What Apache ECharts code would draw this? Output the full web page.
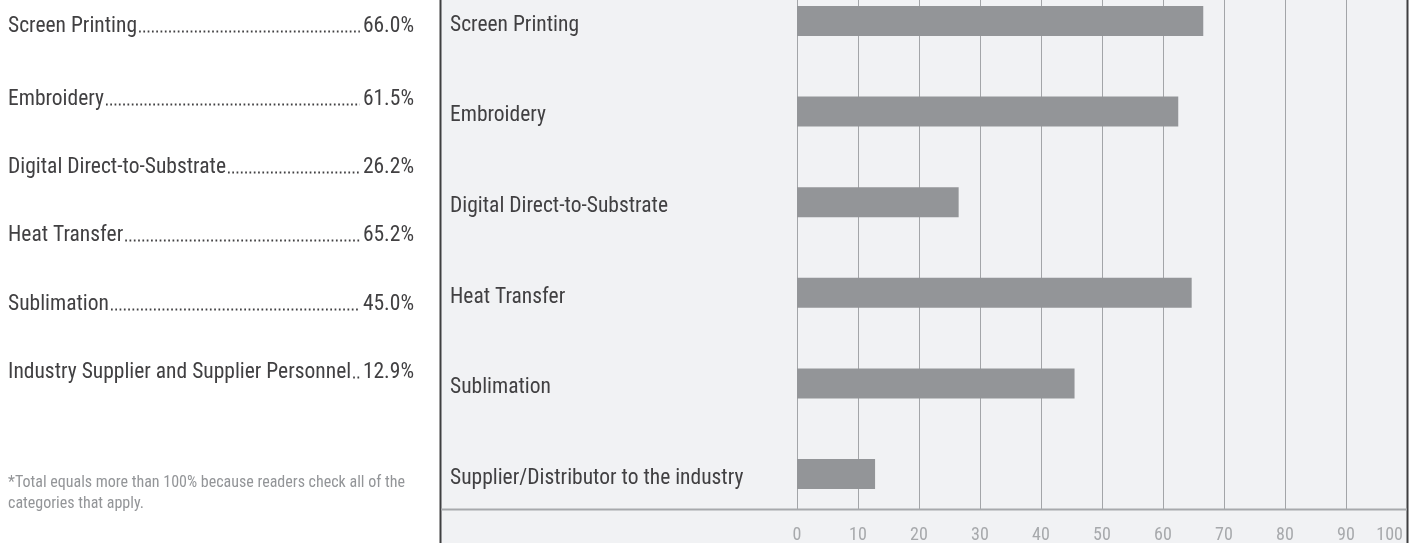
<!DOCTYPE html>
<html><head><meta charset="utf-8">
<script src="https://cdn.jsdelivr.net/npm/echarts@6/dist/echarts.min.js"></script>
<style>html,body{margin:0;padding:0;background:#fff}#c{width:1417px;height:543px}</style>
</head><body><div id="c"></div>
<script>
// ---- data ----
const categories = ['Screen Printing', 'Embroidery', 'Digital Direct-to-Substrate', 'Heat Transfer', 'Sublimation', 'Supplier/Distributor to the industry'];
const barValues = [66.6, 62.5, 26.5, 64.7, 45.5, 12.8];
const summaryLabels = ['Screen Printing', 'Embroidery', 'Digital Direct-to-Substrate', 'Heat Transfer', 'Sublimation', 'Industry Supplier and Supplier Personnel'];
const summaryValues = [66.0, 61.5, 26.2, 65.2, 45.0, 12.9];
const xMin = 0, xMax = 100, xStep = 10;
const footnoteLines = ['*Total equals more than 100% because readers check all of the', 'categories that apply.'];

// ---- style / layout ----
const FONT = '"Roboto Condensed", sans-serif';
const TEXT = '#414042';
const TICK = '#a7a9ac';
const LABEL_SIZE = 21.5;
const rowY = [24, 97, 165, 233, 302, 370];
const TEXT_SHIFT = 3;

const ctx = document.createElement('canvas').getContext('2d');
function textW(t, size) { ctx.font = size + 'px ' + FONT; return ctx.measureText(t).width; }

const graphics = [];
graphics.push({ type: 'rect', z: -10, silent: true, shape: { x: 441, y: 0, width: 966, height: 543 }, style: { fill: '#f1f2f4' } });
graphics.push({ type: 'line', z: 10, silent: true, shape: { x1: 440.5, y1: 0, x2: 440.5, y2: 543 }, style: { stroke: '#3f3f40', lineWidth: 2 } });
graphics.push({ type: 'line', z: 10, silent: true, shape: { x1: 1407.5, y1: 0, x2: 1407.5, y2: 543 }, style: { stroke: '#3f3f40', lineWidth: 2 } });
graphics.push({ type: 'line', z: 10, silent: true, shape: { x1: 441, y1: 509.5, x2: 1407, y2: 509.5 }, style: { stroke: '#a7a9ac', lineWidth: 2 } });

summaryLabels.forEach((lab, i) => {
  const val = summaryValues[i].toFixed(1) + '%';
  const y = rowY[i];
  graphics.push({ type: 'text', silent: true, x: 8, y: y + TEXT_SHIFT, style: { text: lab, fontSize: LABEL_SIZE, fontFamily: FONT, fill: TEXT, align: 'left', verticalAlign: 'middle' } });
  graphics.push({ type: 'text', silent: true, x: 414, y: y + TEXT_SHIFT, style: { text: val, fontSize: LABEL_SIZE, fontFamily: FONT, fill: TEXT, align: 'right', verticalAlign: 'middle' } });
  const x1 = 8 + textW(lab, LABEL_SIZE) + 2;
  const x2 = 414 - textW(val, LABEL_SIZE) - 3;
  if (x2 > x1 + 2) {
    graphics.push({ type: 'line', silent: true, shape: { x1: x1, y1: y + 7.5, x2: x2, y2: y + 7.5 }, style: { stroke: TEXT, lineWidth: 1.8, lineDash: [1.7, 2.6] } });
  }
});
footnoteLines.forEach((t, i) => {
  graphics.push({ type: 'text', silent: true, x: 8, y: 483 + i * 21, style: { text: t, fontSize: 16, fontFamily: FONT, fill: '#939598', align: 'left', verticalAlign: 'middle' } });
});

const chart = echarts.init(document.getElementById('c'), null, { renderer: 'canvas' });
chart.setOption({
  animation: false,
  backgroundColor: '#ffffff',
  grid: [
    { left: 797, right: 10, top: -24.3, height: 543.6, outerBoundsMode: 'none', containLabel: false },
    { left: 797, right: 10, top: 0, height: 509, outerBoundsMode: 'none', containLabel: false }
  ],
  xAxis: [
    { gridIndex: 0, type: 'value', min: xMin, max: xMax, show: false },
    { gridIndex: 1, type: 'value', min: xMin, max: xMax, interval: xStep,
      axisLine: { show: false }, axisTick: { show: false },
      splitLine: { show: true, lineStyle: { color: '#a3a5a8', width: 1 } },
      axisLabel: { color: TICK, fontSize: 18, fontFamily: FONT, margin: 17, alignMaxLabel: 'right',
        formatter: v => (v === xMax ? '{e|' + v + '}' : String(v)),
        rich: { e: { color: TICK, fontSize: 18, fontFamily: FONT, padding: [0, 4, 0, 0] } } } }
  ],
  yAxis: [
    { gridIndex: 0, type: 'category', data: categories, inverse: true,
      axisLine: { show: false }, axisTick: { show: false }, splitLine: { show: false },
      axisLabel: { align: 'left', margin: 347, color: TEXT, fontSize: LABEL_SIZE, fontFamily: FONT,
        formatter: v => '{a|' + v + '}',
        rich: { a: { color: TEXT, fontSize: LABEL_SIZE, fontFamily: FONT, padding: [9, 0, 0, 0] } } } },
    { gridIndex: 1, type: 'value', min: 0, max: 1, show: false }
  ],
  series: [
    { type: 'bar', xAxisIndex: 0, yAxisIndex: 0, data: barValues, barWidth: 30, silent: true, itemStyle: { color: '#939598' } }
  ],
  graphic: { elements: graphics }
});
</script>
</body></html>
